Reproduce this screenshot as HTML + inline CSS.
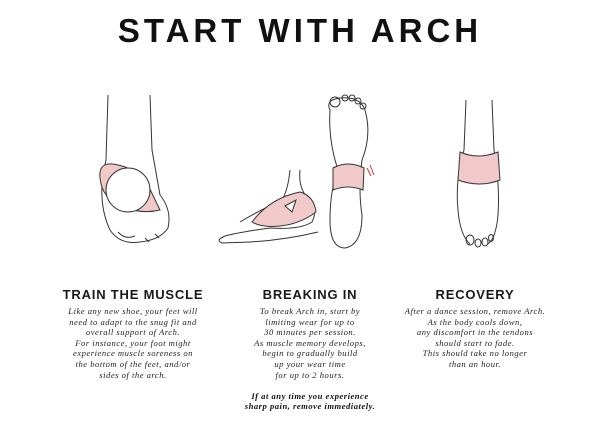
<!DOCTYPE html>
<html><head><style>
body{margin:0;width:600px;height:428px;background:#fff;position:relative;overflow:hidden;font-family:"Liberation Sans",sans-serif;color:#1a1a1a}
.t{position:absolute;left:0;width:600px;top:12px;text-align:center;font-size:33px;font-weight:bold;letter-spacing:4px;color:#111}
.h{position:absolute;font-size:13px;font-weight:bold;letter-spacing:0.8px;text-align:center;width:200px}
.p{position:absolute;font-family:"Liberation Serif",serif;font-style:italic;font-size:8.6px;line-height:10.6px;text-align:center;width:200px;letter-spacing:0.5px;color:#222}
svg{position:absolute;left:0;top:0}
</style></head><body>
<div class="t">START WITH ARCH</div>
<svg width="600" height="428" fill="none" stroke="#333" stroke-width="1">
<path d="M108 95 L106 160 M150 95 L152 150"/>
<path d="M106 160 Q96 200 110 230 Q120 245 140 242 Q160 240 168 228 Q172 210 160 195 L152 150"/>
<path d="M100 178 Q98 160 118 165 Q140 170 148 185 L160 210 Q140 215 120 205 Q102 198 100 178Z" fill="#f2c9c9"/>
<ellipse cx="128" cy="190" rx="22" ry="22" fill="#fff"/>
<path d="M118 232 Q125 240 135 236 M145 238 l4 4 M155 234 l4 4"/>
<path d="M300 170 Q298 190 310 200 Q318 210 312 222 Q300 230 270 228 Q240 232 225 236 Q215 240 222 243 L250 242 Q285 240 318 232"/>
<path d="M290 170 Q288 190 282 200 Q260 210 240 222"/>
<path d="M252 222 Q270 198 300 192 Q314 196 316 212 Q300 224 280 226 Q262 228 252 222Z" fill="#f2c9c9"/>
<path d="M285 206 L296 200 L292 212Z" fill="#fff"/>
<path d="M330 110 Q325 100 340 98 Q360 96 365 110 Q372 135 362 160 Q358 190 362 215 Q362 245 345 248 Q330 248 330 220 Q330 190 338 170 Q328 140 330 110Z"/>
<circle cx="335" cy="102" r="5"/><circle cx="345" cy="98" r="3"/><circle cx="352" cy="98" r="3"/><circle cx="358" cy="101" r="3"/><circle cx="363" cy="106" r="3"/>
<path d="M333 168 Q348 160 364 168 L363 190 Q348 184 333 190Z" fill="#f2c9c9"/>
<path d="M367 168 l4 8 M370 165 l4 10" stroke="#c33"/>
<path d="M466 100 L464 150 M492 100 L494 150"/>
<path d="M464 150 Q455 180 458 210 Q460 235 470 244 M494 150 Q500 185 498 215 Q496 238 488 244"/>
<path d="M460 152 Q478 160 498 152 L500 180 Q480 188 458 180Z" fill="#f2c9c9"/>
<ellipse cx="470" cy="240" rx="4" ry="5"/><ellipse cx="478" cy="243" rx="3" ry="4"/><ellipse cx="485" cy="242" rx="3" ry="4"/><ellipse cx="491" cy="238" rx="2.5" ry="3.5"/>
</svg>
<div class="h" style="left:33px;top:287px">TRAIN THE MUSCLE</div>
<div class="h" style="left:210px;top:287px">BREAKING IN</div>
<div class="h" style="left:375px;top:287px">RECOVERY</div>
<div class="p" style="left:33px;top:306px">Like any new shoe, your feet will<br>need to adapt to the snug fit and<br>overall support of Arch.<br>For instance, your foot might<br>experience muscle soreness on<br>the bottom of the feet, and/or<br>sides of the arch.</div>
<div class="p" style="left:210px;top:306px">To break Arch in, start by<br>limiting wear for up to<br>30 minutes per session.<br>As muscle memory develops,<br>begin to gradually build<br>up your wear time<br>for up to 2 hours.<br><br><b style="color:#111">If at any time you experience<br>sharp pain, remove immediately.</b></div>
<div class="p" style="left:375px;top:306px">After a dance session, remove Arch.<br>As the body cools down,<br>any discomfort in the tendons<br>should start to fade.<br>This should take no longer<br>than an hour.</div>
</body></html>
